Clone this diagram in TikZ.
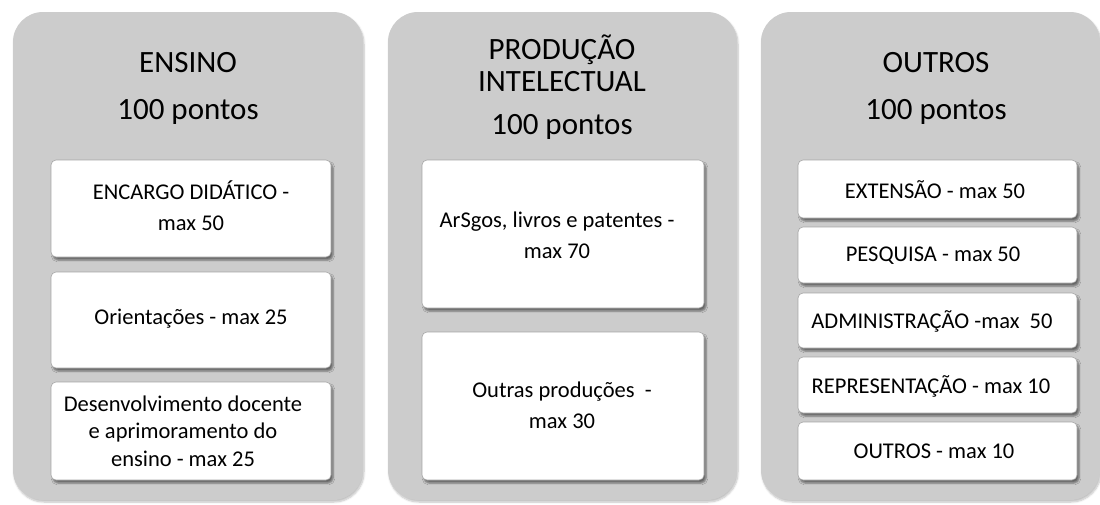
\documentclass[tikz,border=0pt]{standalone}
\usepackage{fontspec}
\setmainfont{Carlito}
\usetikzlibrary{shadows.blur}
\begin{document}
\begin{tikzpicture}[x=1pt,y=-1pt,
  panel/.style={draw=none,fill=black!20,rounded corners=30pt,
     blur shadow={shadow xshift=1pt,shadow yshift=-2pt,shadow blur steps=6,shadow opacity=25}},
  item/.style={draw=black!35,line width=0.6pt,fill=white,rounded corners=5pt,
     blur shadow={shadow xshift=2pt,shadow yshift=-3pt,shadow blur steps=4,shadow blur extra rounding=1pt,shadow opacity=50}},
  title/.style={font=\fontsize{31}{33}\selectfont,text=black},
  lbl/.style={font=\fontsize{22.5}{31}\selectfont,align=center,text=black}]
\useasboundingbox (0,0) rectangle (1100,504);
% panels
\path[panel] (13,12) rectangle (363,500);
\path[panel] (388,12) rectangle (737,500);
\path[panel] (761,12) rectangle (1100,500);
% titles
\node[title] (t1) at (188,63) {ENSINO};
\node[title] (p1) at (188,112) {100 pontos};
\node[title] (t2a) at (562,50) {PRODUÇÃO};
\node[title] (t2b) at (562,82) {INTELECTUAL};
\node[title] (p2) at (562,127) {100 pontos};
\node[title] (t3) at (936,63) {OUTROS};
\node[title] (p3) at (936,112) {100 pontos};
% panel 1 items
\path[item] (51,160) rectangle (331,257);
\node[lbl] (a1) at (191,206) {ENCARGO DIDÁTICO -\\max 50};
\path[item] (51,272) rectangle (331,368);
\node[lbl] (a2) at (191,319) {Orientações - max 25};
\path[item] (51,382) rectangle (331,480);
\node[lbl,font=\fontsize{22.5}{27.5}\selectfont] (a3) at (183,431) {Desenvolvimento docente\\e aprimoramento do\\ensino - max 25};
% panel 2 items
\path[item] (422,160) rectangle (704,308);
\node[lbl] (b1) at (557,235) {ArSgos, livros e patentes -\\max 70};
\path[item] (422,332) rectangle (704,480);
\node[lbl] (b2) at (562,405) {Outras produções~ -\\max 30};
% panel 3 items
\path[item] (798,160) rectangle (1077,218);
\node[lbl] (c1) at (935,190) {EXTENSÃO - max 50};
\path[item] (798,227) rectangle (1077,283);
\node[lbl] (c2) at (933,256) {PESQUISA - max 50};
\path[item] (798,293) rectangle (1077,348);
\node[lbl] (c3) at (932,321) {ADMINISTRAÇÃO -max~ 50};
\path[item] (798,357) rectangle (1077,413);
\node[lbl] (c4) at (931,386) {REPRESENTAÇÃO - max 10};
\path[item] (798,422) rectangle (1077,480);
\node[lbl] (c5) at (934,451) {OUTROS - max 10};
\end{tikzpicture}
\end{document}
